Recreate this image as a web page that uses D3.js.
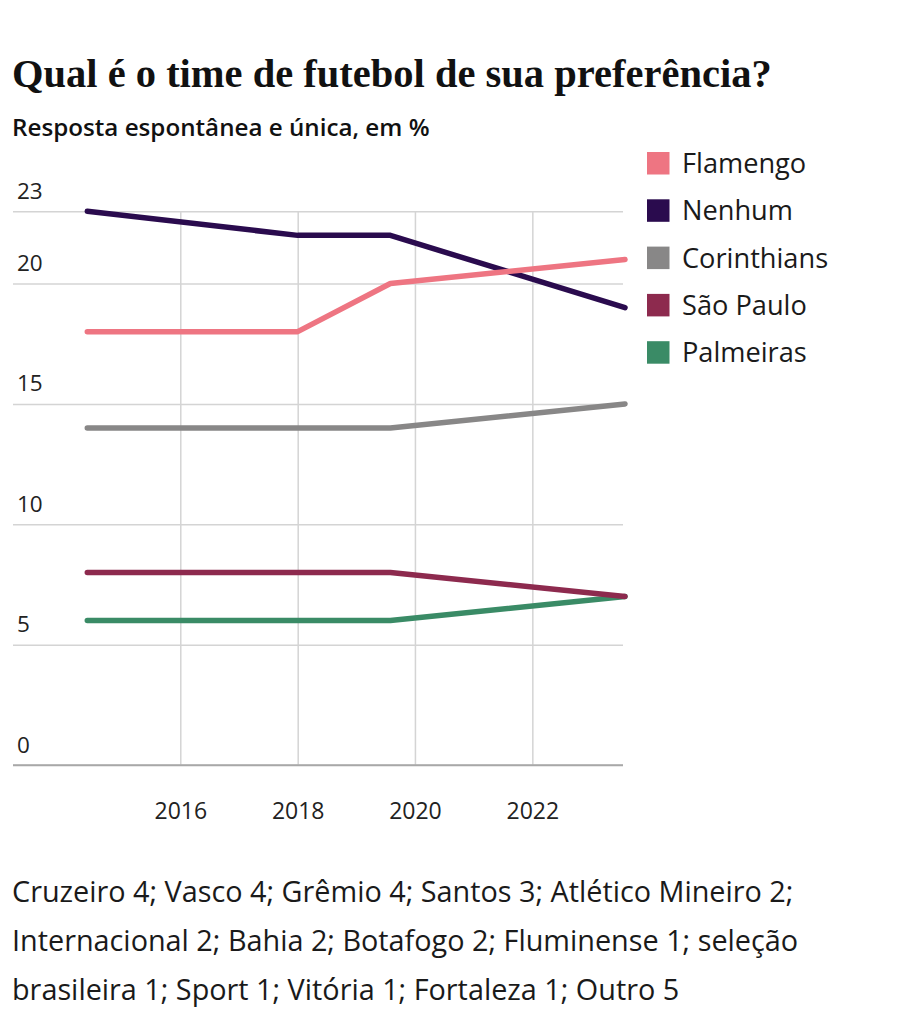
<!DOCTYPE html>
<html>
<head>
<meta charset="utf-8">
<script src="https://cdn.jsdelivr.net/npm/d3@7"></script>
<style>
  html, body { margin: 0; padding: 0; background: #fff; }
  svg { display: block; }
</style>
</head>
<body>
<svg id="chart" width="900" height="1027"></svg>
<script>
// ---- Data ----
const surveyDates = ["2014-06-01", "2018-01-01", "2019-08-01", "2023-08-01"];
const seriesNames = ["Flamengo", "Nenhum", "Corinthians", "São Paulo", "Palmeiras"];
const flamengo    = [18, 18, 20, 21];
const nenhum      = [23, 22, 22, 19];
const corinthians = [14, 14, 14, 15];
const saoPaulo    = [8, 8, 8, 7];
const palmeiras   = [6, 6, 6, 7];
const seriesColors = ["#ee7582", "#2a0b4e", "#888787", "#8d2a4e", "#3a8b66"];
const yTicks = [0, 5, 10, 15, 20, 23];
const xTickYears = [2016, 2018, 2020, 2022];
const titleText = "Qual é o time de futebol de sua preferência?";
const subtitleText = "Resposta espontânea e única, em %";
const footerLines = [
  "Cruzeiro 4; Vasco 4; Grêmio 4; Santos 3; Atlético Mineiro 2;",
  "Internacional 2; Bahia 2; Botafogo 2; Fluminense 1; seleção",
  "brasileira 1; Sport 1; Vitória 1; Fortaleza 1; Outro 5"
];

const seriesValues = [flamengo, nenhum, corinthians, saoPaulo, palmeiras];
const parse = d3.utcParse("%Y-%m-%d");
const dates = surveyDates.map(parse);
const series = seriesNames.map((name, i) => ({
  name, color: seriesColors[i],
  values: dates.map((d, j) => ({ date: d, value: seriesValues[i][j] }))
}));

// ---- Layout ----
const svg = d3.select("#chart");
const sansFont = "'Open Sans', 'Noto Sans', sans-serif";

const x = d3.scaleUtc().domain(d3.extent(dates)).range([87.3, 625]);
const y = d3.scaleLinear().domain([0, 23]).range([765, 211.3]);
const gridLeft = 13, gridRight = 623;

// Title & subtitle
svg.append("text")
  .attr("x", 12).attr("y", 87)
  .attr("font-family", "'Liberation Serif', 'DejaVu Serif', serif")
  .attr("font-weight", "bold")
  .attr("font-size", 40.5)
  .attr("fill", "#111")
  .text(titleText);

svg.append("text")
  .attr("x", 12).attr("y", 136)
  .attr("font-family", sansFont)
  .attr("font-weight", 600)
  .attr("font-size", 24.2)
  .attr("fill", "#111")
  .text(subtitleText);

// Horizontal gridlines (y axis)
const yAxis = d3.axisLeft(y).tickValues(yTicks).tickSize(0).tickFormat(d3.format("d"));
const gy = svg.append("g").attr("transform", `translate(${gridLeft},0)`).call(yAxis);
gy.select(".domain").remove();
gy.selectAll(".tick line").remove();
gy.selectAll(".tick").append("line")
  .attr("x1", 0).attr("x2", gridRight - gridLeft)
  .attr("stroke", d => d === 0 ? "#a8a8a8" : "#d4d4d4")
  .attr("stroke-width", 1.5);
gy.selectAll(".tick text")
  .attr("x", 4).attr("dy", -13)
  .attr("text-anchor", "start")
  .attr("font-family", sansFont)
  .attr("font-size", 22.5)
  .attr("fill", "#222");

// Vertical gridlines (x axis)
const xTicks = xTickYears.map(yr => new Date(Date.UTC(yr, 0, 1)));
const xAxis = d3.axisBottom(x).tickValues(xTicks).tickSize(0).tickFormat(d3.utcFormat("%Y"));
const gx = svg.append("g").attr("transform", `translate(0,${y(0)})`).call(xAxis);
gx.select(".domain").remove();
gx.selectAll(".tick").insert("line", "text")
  .attr("y1", 0).attr("y2", y(23) - y(0))
  .attr("stroke", "#d4d4d4")
  .attr("stroke-width", 1.5);
gx.selectAll(".tick text")
  .attr("y", 54).attr("dy", 0)
  .attr("font-family", sansFont)
  .attr("font-size", 23)
  .attr("fill", "#222");

// Redraw zero baseline on top of vertical gridlines
svg.append("line")
  .attr("x1", gridLeft).attr("x2", gridRight)
  .attr("y1", y(0)).attr("y2", y(0))
  .attr("stroke", "#a8a8a8").attr("stroke-width", 1.5);

// Lines (draw from bottom to top so Flamengo/Nenhum on top)
const line = d3.line().x(d => x(d.date)).y(d => y(d.value));
svg.append("g").selectAll("path")
  .data(series.slice().reverse())
  .join("path")
  .attr("d", d => line(d.values))
  .attr("fill", "none")
  .attr("stroke", d => d.color)
  .attr("stroke-width", 5.5)
  .attr("stroke-linecap", "round")
  .attr("stroke-linejoin", "round");

// Legend
const legend = svg.append("g").attr("transform", "translate(647,152)");
const items = legend.selectAll("g").data(series).join("g")
  .attr("transform", (d, i) => `translate(0,${i * 47.3})`);
items.append("rect")
  .attr("width", 22.5).attr("height", 22.5)
  .attr("fill", d => d.color);
items.append("text")
  .attr("x", 35).attr("y", 21)
  .attr("font-family", sansFont)
  .attr("font-size", 27.2)
  .attr("fill", "#1a1a1a")
  .text(d => d.name);

// Footer note
svg.append("g").selectAll("text")
  .data(footerLines).join("text")
  .attr("x", 12)
  .attr("y", (d, i) => 902 + i * 49)
  .attr("font-family", sansFont)
  .attr("font-size", 28.8)
  .attr("fill", "#1a1a1a")
  .text(d => d);
</script>
</body>
</html>
